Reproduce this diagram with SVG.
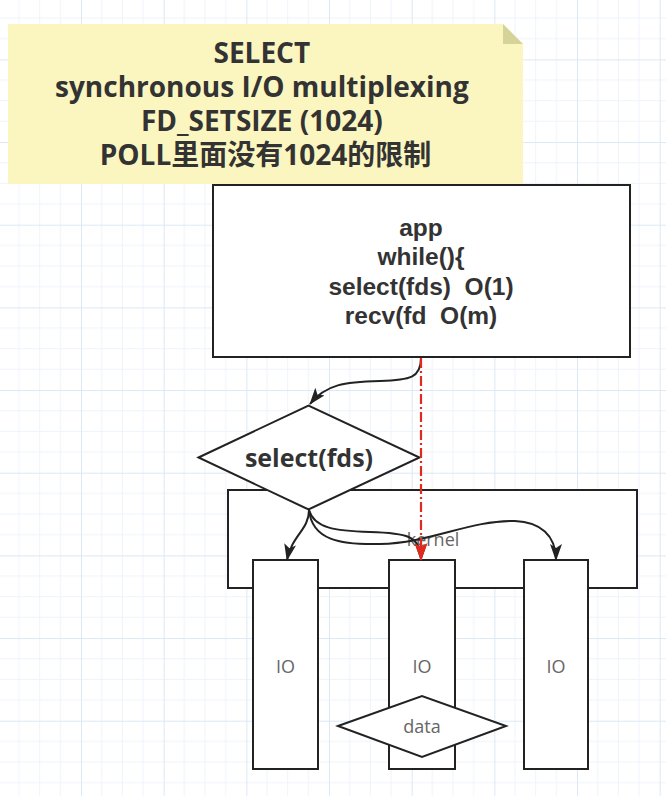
<svg xmlns="http://www.w3.org/2000/svg" width="666" height="796" viewBox="0 0 666 796">
<style>
.box{fill:#fff;stroke:#222;stroke-width:2}
.bold{font-family:"Open Sans","Liberation Sans","Noto Sans CJK SC",sans-serif;font-weight:bold;fill:#333;text-anchor:middle}
.appt{font-family:"Liberation Sans",Arial,sans-serif;font-weight:bold;fill:#333;text-anchor:middle;font-size:24.5px}
.lbl{font-family:"Open Sans","Liberation Sans",sans-serif;fill:#666;text-anchor:middle;font-size:18px}
.edge{fill:none;stroke:#222;stroke-width:2}
</style>
<defs>
<pattern id="grid" x="81" y="224.7" width="82.67" height="82.67" patternUnits="userSpaceOnUse">
<path d="M20.67,0V82.67M41.33,0V82.67M62,0V82.67M0,20.67H82.67M0,41.33H82.67M0,62H82.67" stroke="#eef4fb" stroke-width="1" fill="none"/>
<path d="M0.5,0V82.67M0,0.5H82.67" stroke="#dce8f4" stroke-width="1" fill="none"/>
</pattern>
<marker id="arr" markerUnits="userSpaceOnUse" markerWidth="17" markerHeight="12" viewBox="0 0 17 12" refX="16" refY="6" orient="auto">
<path d="M0,0 L17,6 L0,12 L4,6 z" fill="#222"/>
</marker>
<marker id="arrRed" markerUnits="userSpaceOnUse" markerWidth="18" markerHeight="13" viewBox="0 0 18 13" refX="17" refY="6.5" orient="auto">
<path d="M0,0 L18,6.5 L0,13 L4,6.5 z" fill="#e02a1e"/>
</marker>
</defs>
<rect width="666" height="796" fill="#fff"/>
<rect width="666" height="796" fill="url(#grid)"/>

<g id="note">
<path d="M8,24 H503 L523,44 V184 H8 Z" fill="#fbf6bf"/>
<path d="M503,24 L523,44 H503 Z" fill="#d5d397"/>
<text class="bold" font-size="28">
<tspan x="265.5" y="62.5">SELECT</tspan>
<tspan x="265.5" y="96.8">synchronous I/O multiplexing</tspan>
<tspan x="265.5" y="131">FD_SETSIZE (1024)</tspan>
<tspan x="265.5" y="165.3">POLL里面没有1024的限制</tspan>
</text>
</g>

<g id="app">
<rect class="box" x="213" y="185" width="417" height="172"/>
<text class="appt" xml:space="preserve"><tspan x="421" y="235.5">app</tspan><tspan x="421" y="265">while(){</tspan><tspan x="421" y="294.5">select(fds)  O(1)</tspan><tspan x="421" y="324">recv(fd  O(m)</tspan></text>
</g>

<g id="kernel">
<rect class="box" x="228" y="490" width="409" height="98"/>
<text class="lbl" x="433" y="546" font-size="17">kernel</text>
</g>

<g id="select">
<path class="box" d="M198.5,457.5 L308.5,405.5 L419.5,457.5 L308.5,509.5 Z"/>
<text class="bold" font-size="25" x="309" y="466.7">select(fds)</text>
</g>

<g id="io1">
<rect class="box" x="253" y="560" width="65" height="209"/>
<text class="lbl" x="285.5" y="672.5">IO</text>
</g>
<g id="io2">
<rect class="box" x="389" y="560" width="66" height="209"/>
<text class="lbl" x="422" y="672.5">IO</text>
</g>
<g id="io3">
<rect class="box" x="524" y="560" width="64" height="209"/>
<text class="lbl" x="556" y="672.5">IO</text>
</g>

<g id="data">
<path class="box" d="M338,726 L422,696 L506,726 L422,757 Z"/>
<text class="lbl" x="422" y="732.7">data</text>
</g>

<g id="connectors">
<path class="edge" d="M421,358 C421,378 410,380 380,381 C345,382 326,384 310,404" marker-end="url(#arr)"/>
<path class="edge" d="M309,510 C309,530 292,535 287,560" marker-end="url(#arr)"/>
<path class="edge" d="M309,510 C314,528 335,531 370,532 C405,533 421,535 421,560" marker-end="url(#arr)"/>
<path class="edge" d="M309,510 C312,540 340,545 380,544 C430,543 470,520 515,521 C540,522 556,535 556,560" marker-end="url(#arr)"/>
<path d="M421,358 L421,560" fill="none" stroke="#e02a1e" stroke-width="2.2" stroke-dasharray="10 3 2 3" marker-end="url(#arrRed)"/>
</g>
</svg>
